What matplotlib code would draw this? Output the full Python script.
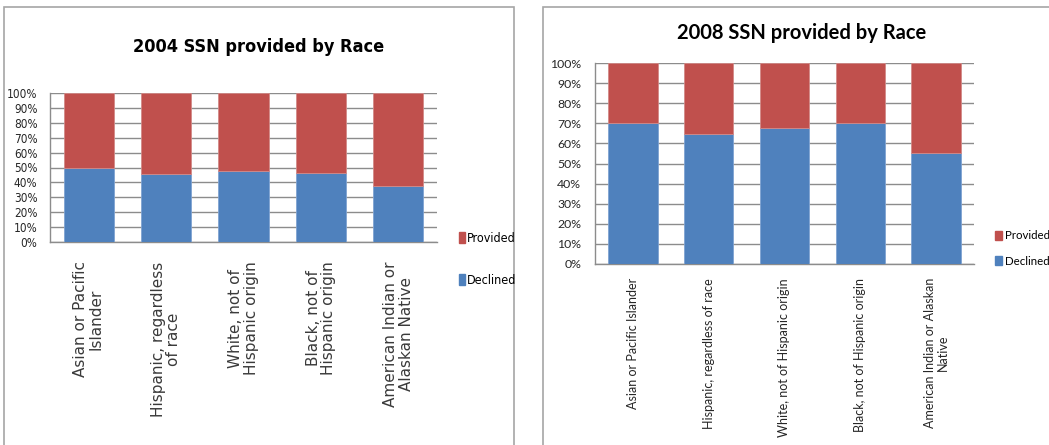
import matplotlib
matplotlib.use("Agg")
import matplotlib.pyplot as plt
from matplotlib import font_manager
from matplotlib.patches import Rectangle, Patch
from matplotlib.ticker import PercentFormatter

categories_2004 = [
    "Asian or Pacific\nIslander",
    "Hispanic, regardless\nof race",
    "White, not of\nHispanic origin",
    "Black, not of\nHispanic origin",
    "American Indian or\nAlaskan Native",
]
categories_2008 = [
    "Asian or Pacific Islander",
    "Hispanic, regardless of race",
    "White, not of Hispanic origin",
    "Black, not of Hispanic origin",
    "American Indian or Alaskan\nNative",
]
declined_2004 = [50.0, 45.8, 47.4, 46.3, 37.8]
declined_2008 = [70.0, 64.5, 67.8, 70.0, 55.2]
provided_2004 = [100 - v for v in declined_2004]
provided_2008 = [100 - v for v in declined_2008]
y_ticks = list(range(0, 101, 10))

RED = "#C0504D"
BLUE = "#4F81BD"
GRID = "#8c8c8c"
FRAME = "#a6a6a6"
TEXT = "#262626"

# pick a narrow face for the condensed-looking panel
names = {f.name for f in font_manager.fontManager.ttflist}
condensed_fonts = [f for f in font_manager.fontManager.ttflist
                   if f.name == "DejaVu Sans" and "ondensed" in str(f.stretch)]
if "Liberation Sans Narrow" in names:
    NARROW = dict(family="Liberation Sans Narrow")
elif condensed_fonts:
    NARROW = dict(family="DejaVu Sans", stretch="condensed")
else:
    NARROW = dict(family="Liberation Sans")
SOFT = "Lato" if "Lato" in names else "DejaVu Sans"

W, H = 1049, 445
fig = plt.figure(figsize=(W / 100, H / 100), dpi=100)
fig.patch.set_facecolor("white")


def fx(px):
    return px / W


def fy(py):
    return 1 - py / H


# panel frames
fig.patches.append(Rectangle((fx(4), fy(460)), fx(510), fy(7) - fy(460),
                             transform=fig.transFigure, fill=False,
                             edgecolor=FRAME, lw=1.2))
fig.patches.append(Rectangle((fx(543), fy(460)), fx(530), fy(7) - fy(460),
                             transform=fig.transFigure, fill=False,
                             edgecolor=FRAME, lw=1.2))


def stacked(ax, declined, provided):
    x = range(len(declined))
    ax.bar(x, declined, width=0.65, color=BLUE, edgecolor="#7fa3d2", lw=0.6,
           zorder=3, label="Declined")
    ax.bar(x, provided, bottom=declined, width=0.65, color=RED,
           edgecolor="#d28a88", lw=0.6, zorder=3, label="Provided")
    ax.set_xlim(-0.5, len(declined) - 0.5)
    ax.set_ylim(0, 100)
    ax.set_yticks(y_ticks)
    ax.yaxis.set_major_formatter(PercentFormatter(decimals=0))
    ax.grid(axis="y", color=GRID, lw=1.0, zorder=0)
    for s in ("top", "right"):
        ax.spines[s].set_visible(False)
    for s in ("left", "bottom"):
        ax.spines[s].set_color(GRID)
        ax.spines[s].set_linewidth(1.0)
    ax.tick_params(axis="both", length=0)


handles = [Patch(color=RED, label="Provided"), Patch(color=BLUE, label="Declined")]

# ---- 2004 panel ----
ax1 = fig.add_axes([fx(50), fy(242), fx(437) - fx(50), fy(93) - fy(242)])
stacked(ax1, declined_2004, provided_2004)
ax1.set_xticks(range(len(categories_2004)))
ax1.set_xticklabels(categories_2004, rotation=90, va="top", ha="center",
                    family="DejaVu Sans", fontsize=11, linespacing=1.05,
                    multialignment="center", color="#3a3a3a")
ax1.tick_params(axis="x", pad=14)
ax1.tick_params(axis="y", pad=9)
for t in ax1.get_yticklabels():
    t.set_fontsize(8.5)
    t.set_color(TEXT)
    t.set(**NARROW)
fig.text(fx(259), fy(47), "2004 SSN provided by Race", ha="center",
         va="center", fontsize=13, fontweight="bold", **NARROW)
fig.legend(handles=handles, loc="center left",
           bbox_to_anchor=(fx(459), fy(259.5)), frameon=False, borderpad=0,
           borderaxespad=0, handlelength=0.5, handleheight=1.0,
           handletextpad=0.15, labelspacing=2.3, prop=dict(size=9, **NARROW))

# ---- 2008 panel ----
ax2 = fig.add_axes([fx(595), fy(264), fx(974) - fx(595), fy(63) - fy(264)])
stacked(ax2, declined_2008, provided_2008)
ax2.set_xticks(range(len(categories_2008)))
ax2.set_xticklabels(categories_2008, rotation=90, va="top", ha="center",
                    family=SOFT, fontsize=9, linespacing=1.1,
                    multialignment="center", color=TEXT)
ax2.tick_params(axis="x", pad=10)
ax2.tick_params(axis="y", pad=10)
for t in ax2.get_yticklabels():
    t.set_fontsize(8.8)
    t.set_family(SOFT)
    t.set_color(TEXT)
fig.text(fx(802), fy(33), "2008 SSN provided by Race", ha="center",
         va="center", fontsize=14.5, fontweight="bold", family=SOFT)
fig.legend(handles=handles, loc="center left",
           bbox_to_anchor=(fx(995), fy(248.5)), frameon=False, borderpad=0,
           borderaxespad=0, handlelength=0.6, handleheight=0.8,
           handletextpad=0.25, labelspacing=1.25, prop=dict(size=8.3, family=SOFT))

fig.savefig("out.png", dpi=100, facecolor="white")
